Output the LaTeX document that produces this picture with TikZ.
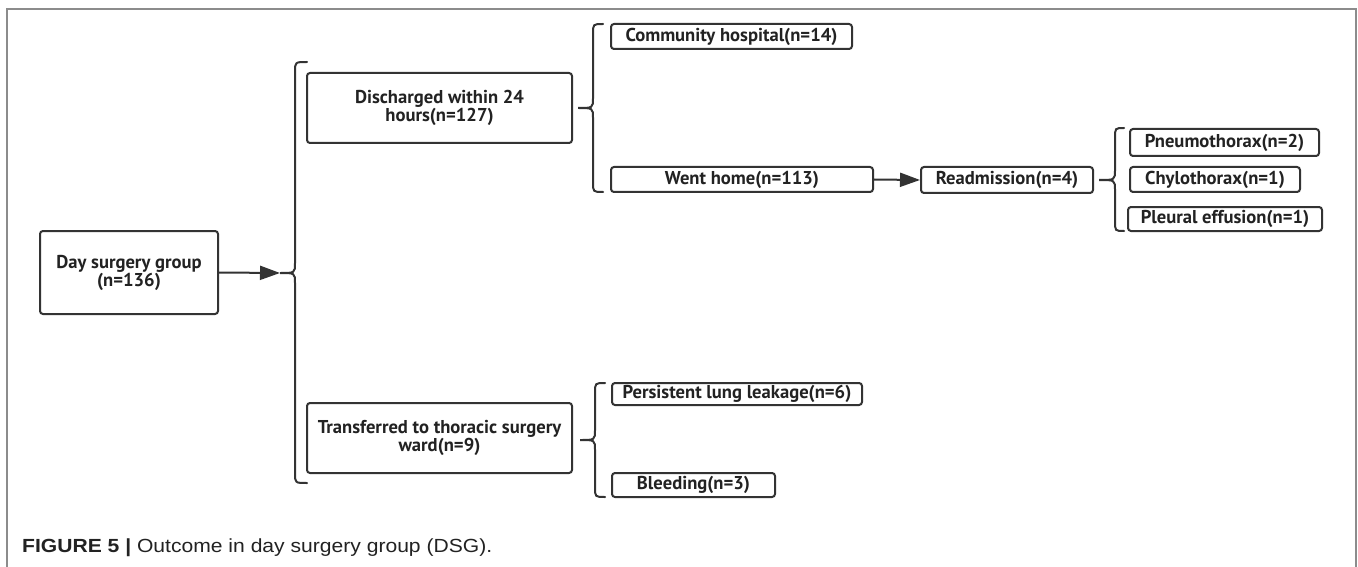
\documentclass[tikz,border=0pt]{standalone}
\usepackage{fontspec}
\setmainfont{Liberation Sans}
\newfontfamily\boxfont{PT Sans}
\usetikzlibrary{arrows.meta}
\definecolor{ln}{HTML}{333333}
\definecolor{fr}{HTML}{8C8C8C}
\definecolor{tx}{HTML}{222222}
\newcommand\mybrace[6]{%
  \draw[brc] (#6,#4) .. controls (#3,#4) .. (#3,#4+10) -- (#3,#2-10)
    .. controls (#3,#2) .. (#1,#2) .. controls (#3,#2) .. (#3,#2+10)
    -- (#3,#5-10) .. controls (#3,#5) .. (#6,#5);}
\begin{document}
\begin{tikzpicture}[x=1pt,y=-1pt,
  box/.style={draw=ln, line width=2pt, rounded corners=3pt, inner sep=0pt,
    font=\boxfont\bfseries\fontsize{18.6}{18}\selectfont, text=tx, align=center},
  arr/.style={draw=ln, line width=2pt, -{Triangle[length=20pt,width=14pt]}},
  brc/.style={draw=ln, line width=2pt, line cap=round}]
\useasboundingbox (0,0) rectangle (1358,567);
\fill[white] (0,0) rectangle (1358,567);
\draw[fr, line width=1.5pt] (7,580) -- (7,9) -- (1356,9) -- (1356,580);

\node[box, minimum width=178pt, minimum height=83pt] (dsg) at (129,272.5) {Day surgery group\\(n=136)};
\node[box, minimum width=265pt, minimum height=70pt] (dis) at (439.5,108) {Discharged within 24\\hours(n=127)};
\node[box, minimum width=265pt, minimum height=70pt] (tra) at (439.5,438) {Transferred to thoracic surgery\\ward(n=9)};
\node[box, minimum width=241pt, minimum height=25pt] (com) at (731.5,36.5) {Community hospital(n=14)};
\node[box, minimum width=262pt, minimum height=25pt] (went) at (742,179.5) {Went home(n=113)};
\node[box, minimum width=172pt, minimum height=26pt] (read) at (1007,180) {Readmission(n=4)};
\node[box, minimum width=189pt, minimum height=27pt] (pneu) at (1224.5,142.5) {Pneumothorax(n=2)};
\node[box, minimum width=170pt, minimum height=25pt] (chyl) at (1215,179.5) {Chylothorax(n=1)};
\node[box, minimum width=194pt, minimum height=24pt] (pleu) at (1225,219) {Pleural effusion(n=1)};
\node[box, minimum width=250pt, minimum height=22pt] (pers) at (737,394) {Persistent lung leakage(n=6)};
\node[box, minimum width=163pt, minimum height=24pt] (bleed) at (693.5,485) {Bleeding(n=3)};

\coordinate (t1) at (280,273);
\draw[arr] (dsg.east) -- (t1);
\draw[arr] (went.east) -- (read.west);

\mybrace{280}{273}{295}{62}{483}{307}
\mybrace{578}{108}{593}{24}{192}{603}
\mybrace{1099}{180}{1115}{128}{231}{1124}
\mybrace{580}{440}{595}{383}{497}{605}

\node[anchor=base west, inner sep=0pt, text=tx, font=\fontsize{19}{22}\selectfont] (cap) at (22,552)
  {\scalebox{1.11}[1]{\textbf{FIGURE 5 |} Outcome in day surgery group (DSG).}};
\end{tikzpicture}
\end{document}
